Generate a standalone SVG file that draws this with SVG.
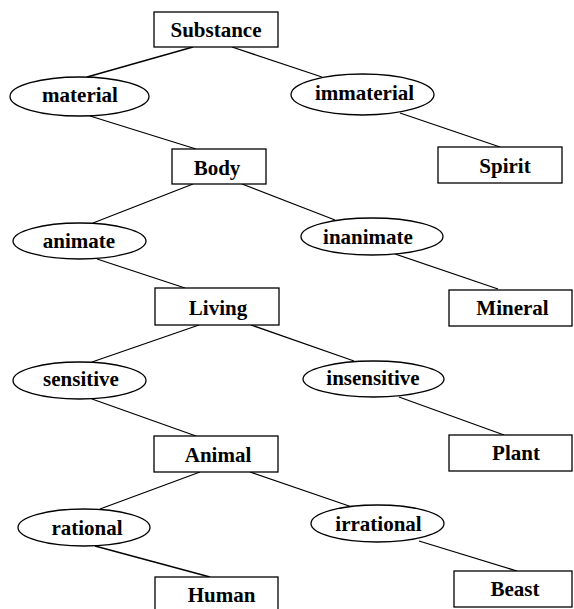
<svg xmlns="http://www.w3.org/2000/svg" width="574" height="609" viewBox="0 0 574 609">
<style>
.n { fill: #ffffff; stroke: #000000; stroke-width: 1.3; }
line { stroke: #000000; stroke-width: 1.3; }
text { font-family: "Liberation Serif", "Times New Roman", serif; font-weight: bold; font-size: 21px; fill: #000000; text-anchor: middle; }
</style>
<rect width="574" height="609" fill="#ffffff"/>
<g id="connectors">
<line x1="193" y1="47" x2="87" y2="77"/>
<line x1="232" y1="47" x2="322" y2="77"/>
<line x1="90" y1="116" x2="196" y2="149"/>
<line x1="400" y1="113" x2="500" y2="147"/>
<line x1="193" y1="184" x2="93" y2="223"/>
<line x1="242" y1="184" x2="335" y2="220"/>
<line x1="97" y1="259" x2="185" y2="288"/>
<line x1="395" y1="254" x2="498" y2="289"/>
<line x1="199" y1="325" x2="92" y2="362"/>
<line x1="251" y1="325" x2="354" y2="361"/>
<line x1="92" y1="399" x2="196" y2="436"/>
<line x1="399" y1="397" x2="504" y2="435"/>
<line x1="200" y1="472" x2="100" y2="509"/>
<line x1="250" y1="472" x2="352" y2="507"/>
<line x1="95" y1="546" x2="210" y2="577"/>
<line x1="419" y1="541" x2="517" y2="571"/>
</g>
<g id="substance"><rect class="n" x="154" y="12" width="124" height="35"/><text x="216" y="37">Substance</text></g>
<g id="material"><ellipse class="n" cx="79.5" cy="96.5" rx="69.5" ry="19.5"/><text x="80" y="102">material</text></g>
<g id="immaterial"><ellipse class="n" cx="362.5" cy="94.5" rx="71.5" ry="20.5"/><text x="364.5" y="100">immaterial</text></g>
<g id="body"><rect class="n" x="172" y="149" width="94" height="35"/><text x="217" y="175">Body</text></g>
<g id="spirit"><rect class="n" x="438" y="147" width="124" height="36"/><text x="505" y="172.5">Spirit</text></g>
<g id="animate"><ellipse class="n" cx="79.5" cy="241" rx="66.5" ry="18"/><text x="79" y="248">animate</text></g>
<g id="inanimate"><ellipse class="n" cx="372" cy="236.5" rx="71" ry="18.5"/><text x="368" y="244">inanimate</text></g>
<g id="living"><rect class="n" x="155" y="288" width="124" height="37"/><text x="218" y="315">Living</text></g>
<g id="mineral"><rect class="n" x="449" y="290" width="123" height="36"/><text x="512.5" y="315">Mineral</text></g>
<g id="sensitive"><ellipse class="n" cx="79.5" cy="380.5" rx="66.5" ry="18.5"/><text x="81" y="386">sensitive</text></g>
<g id="insensitive"><ellipse class="n" cx="373.5" cy="379" rx="70.5" ry="18"/><text x="373" y="385">insensitive</text></g>
<g id="animal"><rect class="n" x="154" y="436" width="124" height="36"/><text x="218" y="461.5">Animal</text></g>
<g id="plant"><rect class="n" x="449" y="435" width="123" height="36"/><text x="516" y="460">Plant</text></g>
<g id="rational"><ellipse class="n" cx="84" cy="527.5" rx="66" ry="18.5"/><text x="87" y="534.5">rational</text></g>
<g id="irrational"><ellipse class="n" cx="377.5" cy="523.5" rx="66.5" ry="18.5"/><text x="378.5" y="531">irrational</text></g>
<g id="human"><rect class="n" x="155" y="577" width="123" height="36"/><text x="221.5" y="601.5">Human</text></g>
<g id="beast"><rect class="n" x="454" y="571" width="118" height="36"/><text x="515" y="596">Beast</text></g>
</svg>
